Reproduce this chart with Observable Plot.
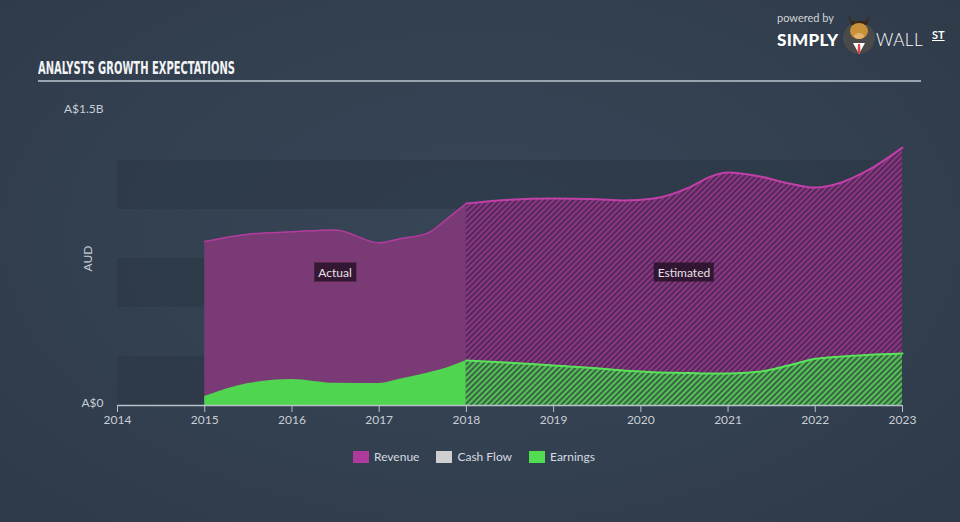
<!DOCTYPE html>
<html><head><meta charset="utf-8">
<script src="https://cdn.jsdelivr.net/npm/d3@7"></script>
<script src="https://cdn.jsdelivr.net/npm/@observablehq/plot@0.6"></script>
<style>
html,body{margin:0;padding:0;}
body{width:960px;height:522px;overflow:hidden;background:radial-gradient(ellipse at 50% 45%, #374556 0%, #334050 55%, #2f3a48 100%);font-family:Lato,"Open Sans",sans-serif;}
#wrap{position:relative;width:960px;height:522px;}
#wrap svg.chart{position:absolute;left:0;top:0;}
.title{position:absolute;left:38px;top:57px;font-family:"DejaVu Sans Condensed","Liberation Sans Narrow",sans-serif;font-weight:bold;font-size:18px;color:#f2f4f6;transform-origin:0 0;white-space:nowrap;}
.rule{position:absolute;left:38px;top:80px;width:883px;height:2px;background:#9aa4ae;}
.tag{position:absolute;transform:translate(-50%,-50%);background:rgba(40,18,40,0.85);color:#e6e0e6;font-size:12px;padding:3px 4px;line-height:13px;}
.legend{position:absolute;top:449px;left:353px;display:flex;align-items:center;font-size:12px;color:#d6dbe0;}
.legend .sw{width:16px;height:12px;margin-right:5px;}
.legend .it{display:flex;align-items:center;margin-right:17px;}
.logo{position:absolute;left:777px;top:10px;width:180px;height:48px;color:#fff;}
.pb{position:absolute;left:0;top:1px;font-size:11px;color:#d0d4d8;white-space:nowrap;}
.simply{position:absolute;left:0;top:19px;font-size:17px;font-weight:900;letter-spacing:0.3px;white-space:nowrap;}
.wall{position:absolute;left:99px;top:19px;font-size:17px;font-weight:300;letter-spacing:0.5px;white-space:nowrap;}
.st{position:absolute;left:155px;top:18px;font-size:11px;font-weight:700;text-decoration:underline;white-space:nowrap;}
.bull{position:absolute;left:64px;top:0px;width:36px;height:46px;}
</style></head><body><div id="wrap">
<div class="title" id="title">ANALYSTS GROWTH EXPECTATIONS</div>
<div class="rule"></div>
<div class="logo">
  <div class="pb">powered by</div>
  <div class="simply">SIMPLY</div>
  <svg class="bull" viewBox="0 0 36 46"><circle cx="18" cy="28" r="16" fill="#4a4a4a"/><path d="M7 4 L10 15 L26 15 L29 4 L25 11 L11 11 Z" fill="#3a2a1a"/><ellipse cx="18" cy="21" rx="9" ry="8" fill="#c8913a"/><ellipse cx="18" cy="26" rx="5" ry="3" fill="#e3b36a"/><path d="M12 33 L18 44 L24 33 Z" fill="#fff"/><path d="M17 34 L19 34 L19.5 42 L18 44 L16.5 42 Z" fill="#d44"/></svg>
  <div class="wall">WALL</div>
  <div class="st">ST</div>
</div>
<div class="legend">
  <div class="it"><div class="sw" style="background:#b03a9c"></div>Revenue</div>
  <div class="it"><div class="sw" style="background:#cfcfcf"></div>Cash Flow</div>
  <div class="it"><div class="sw" style="background:#52dc52"></div>Earnings</div>
</div>
</div>
<script>
// ---- data (A$ billions) ----
const actualYears    = [2015, 2015.5, 2016, 2016.5, 2017, 2017.25, 2017.55, 2017.8, 2018];
const actualRevenue  = [0.837, 0.874, 0.886, 0.896, 0.830, 0.852, 0.878, 0.960, 1.031];
const actualEarnings = [0.046, 0.112, 0.133, 0.113, 0.112, 0.135, 0.165, 0.195, 0.230];

const estYears    = [2018, 2018.5, 2019, 2019.5, 2019.8, 2020.15, 2020.55, 2020.8, 2021, 2021.35, 2021.7, 2022, 2022.3, 2022.6, 2023];
const estRevenue  = [1.031, 1.050, 1.056, 1.052, 1.046, 1.056, 1.112, 1.168, 1.189, 1.170, 1.133, 1.112, 1.138, 1.199, 1.316];
const estEarnings = [0.230, 0.218, 0.204, 0.190, 0.178, 0.170, 0.166, 0.163, 0.163, 0.172, 0.205, 0.238, 0.250, 0.258, 0.265];

const xTicks = [2014, 2015, 2016, 2017, 2018, 2019, 2020, 2021, 2022, 2023];
const yTicks = [0, 1.5];
const yTickLabels = ["A$0", "A$1.5B"];
const bandStarts = [0, 0.5, 1.0];
const bandSize = 0.25;

const actual = actualYears.map((year, i) => ({year, revenue: actualRevenue[i], earnings: actualEarnings[i]}));
const est = estYears.map((year, i) => ({year, revenue: estRevenue[i], earnings: estEarnings[i]}));
const bands = bandStarts.map(b => ({y1: b, y2: b + bandSize}));

const plot = Plot.plot({
  className: "chart",
  width: 960, height: 522,
  marginLeft: 117, marginRight: 58, marginTop: 111, marginBottom: 117,
  style: {background: "transparent", color: "#c8ced6", fontSize: "12px", fontFamily: "Lato, 'Open Sans', sans-serif"},
  x: {domain: [2014, 2023], axis: null},
  y: {domain: [0, 1.5], axis: null},
  marks: [
    Plot.rect(bands, {x1: xTicks[0], x2: xTicks[xTicks.length - 1], y1: "y1", y2: "y2", fill: "#2c3745", fillOpacity: 0.6}),
    Plot.areaY(actual, {x: "year", y: "revenue", fill: "#7a3a75", curve: "monotone-x"}),
    Plot.areaY(actual, {x: "year", y: "earnings", fill: "#50d550", curve: "monotone-x"}),
    Plot.areaY(est, {x: "year", y: "revenue", fill: "url(#hRev)", curve: "monotone-x"}),
    Plot.areaY(est, {x: "year", y: "earnings", fill: "url(#hEarn)", curve: "monotone-x"}),
    Plot.lineY(actual, {x: "year", y: "revenue", stroke: "#b23c9e", strokeWidth: 1.5, curve: "monotone-x"}),
    Plot.lineY(est, {x: "year", y: "revenue", stroke: "#c040a8", strokeWidth: 2, curve: "monotone-x"}),
    Plot.lineY(est, {x: "year", y: "earnings", stroke: "#5ae25a", strokeWidth: 2, curve: "monotone-x"}),
    Plot.ruleY([0], {stroke: "#b9c1cb", strokeWidth: 1.5}),
    Plot.axisX({ticks: xTicks, tickFormat: d => String(d), tickSize: 7, tickPadding: 3, label: null, stroke: "#b9c1cb", fill: "#c8ced6", fontSize: 12}),
    Plot.axisY({ticks: yTicks, tickFormat: d => yTickLabels[yTicks.indexOf(d)], tickSize: 0, tickPadding: 14, label: null, dy: -2, fill: "#c8ced6", fontSize: 12}),
    Plot.text(["AUD"], {frameAnchor: "left", textAnchor: "middle", dx: -29, rotate: -90, fill: "#c8ced6", fontSize: 12})
  ]
});

d3.select(plot).insert("defs", ":first-child").html(`
  <pattern id="hRev" width="4" height="4" patternUnits="userSpaceOnUse" patternTransform="rotate(45)">
    <rect width="4" height="4" fill="#532a57"/>
    <rect width="2" height="4" fill="#8c3685"/>
  </pattern>
  <pattern id="hEarn" width="4" height="4" patternUnits="userSpaceOnUse" patternTransform="rotate(45)">
    <rect width="4" height="4" fill="#3a6446"/>
    <rect width="2" height="4" fill="#55c255"/>
  </pattern>`);

const wrap = document.getElementById("wrap");
wrap.insertBefore(plot, wrap.firstChild);

// squeeze the title to the reference's condensed width
const title = document.getElementById("title");
const tw = title.getBoundingClientRect().width;
title.style.transform = `scaleX(${197 / tw})`;

const sx = plot.scale("x"), sy = plot.scale("y");
const tags = [{text: "Actual", x: 2016.5, y: 0.68}, {text: "Estimated", x: 2020.5, y: 0.68}];
for (const t of tags) {
  const d = document.createElement("div");
  d.className = "tag";
  d.textContent = t.text;
  d.style.left = sx.apply(t.x) + "px";
  d.style.top = sy.apply(t.y) + "px";
  wrap.appendChild(d);
}
</script>
</body></html>
